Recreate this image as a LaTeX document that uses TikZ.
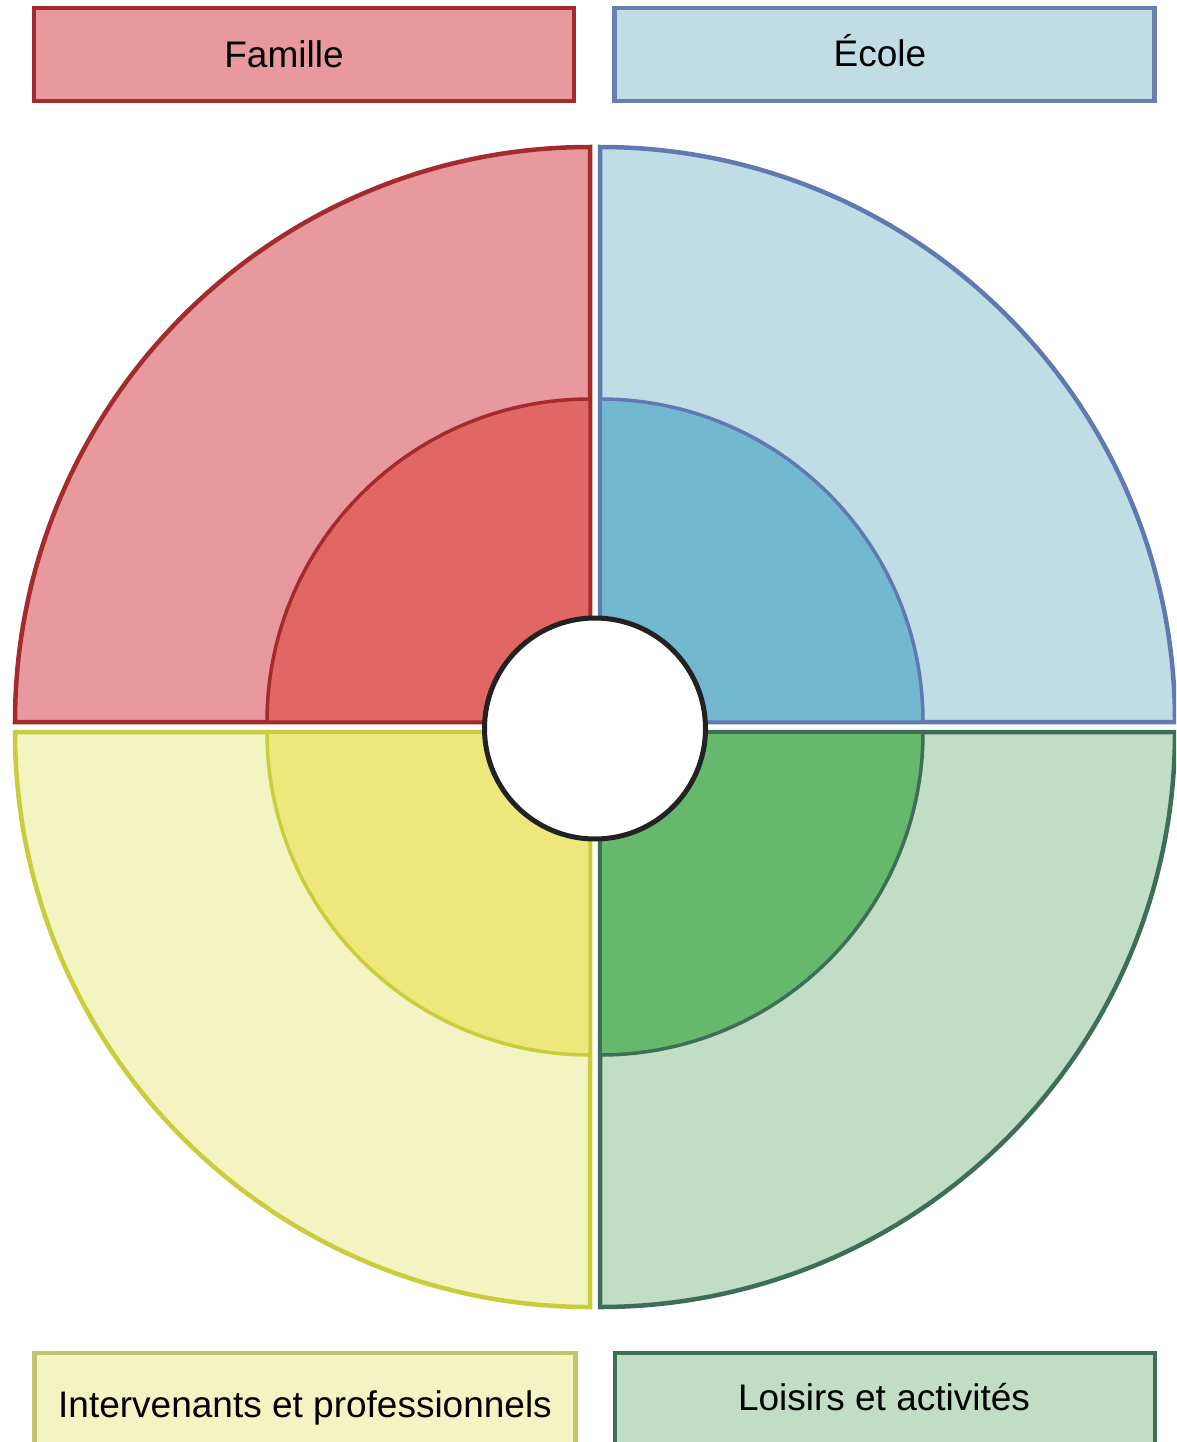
\documentclass[tikz,border=0pt]{standalone}
\usepackage{fontspec}
\setmainfont{Liberation Sans}
\definecolor{redout}{HTML}{E8999D}
\definecolor{redin}{HTML}{E06763}
\definecolor{redline}{HTML}{A32B2E}
\definecolor{blueout}{HTML}{C0DDE6}
\definecolor{bluein}{HTML}{72B9D0}
\definecolor{blueline}{HTML}{6079B0}
\definecolor{yellowout}{HTML}{F4F3C2}
\definecolor{yellowin}{HTML}{EEE87C}
\definecolor{yellowline}{HTML}{C9CD3B}
\definecolor{greenout}{HTML}{C1DDC3}
\definecolor{greenin}{HTML}{66B86D}
\definecolor{greenline}{HTML}{3E6E58}
\definecolor{ylabline}{HTML}{C4C56A}
\definecolor{blabline}{HTML}{6A7FAE}
\definecolor{hubline}{HTML}{222222}
\begin{document}
\begin{tikzpicture}[x=1pt,y=1pt,
  qout/.style={line width=4.5pt, line join=miter},
  qin/.style={line width=3.5pt, line join=miter},
  labelbox/.style={rectangle, line width=4.5pt, inner sep=0pt, minimum width=540pt},
  lbl/.style={font=\fontsize{37}{44}\selectfont, text=black, inner sep=0pt}]
\useasboundingbox (0,0) rectangle (1176,-1442);
\clip (0,0) rectangle (1176,-1442);
\fill[white] (0,0) rectangle (1176,-1442);
% outer quadrants
\draw[qout, fill=redout, draw=redline] (590,-722) -- (15,-722) arc[start angle=180, end angle=90, radius=575] -- cycle;
\draw[qout, fill=blueout, draw=blueline] (600,-722) -- (600,-147) arc[start angle=90, end angle=0, radius=575] -- cycle;
\draw[qout, fill=yellowout, draw=yellowline] (590,-732) -- (15,-732) arc[start angle=180, end angle=270, radius=575] -- cycle;
\draw[qout, fill=greenout, draw=greenline] (600,-732) -- (600,-1307) arc[start angle=270, end angle=360, radius=575] -- cycle;
% inner quadrants
\draw[qin, fill=redin, draw=redline] (590,-722) -- (267,-722) arc[start angle=180, end angle=90, radius=323] -- cycle;
\draw[qin, fill=bluein, draw=blueline] (600,-722) -- (600,-399) arc[start angle=90, end angle=0, radius=323] -- cycle;
\draw[qin, fill=yellowin, draw=yellowline] (590,-732) -- (267,-732) arc[start angle=180, end angle=270, radius=323] -- cycle;
\draw[qin, fill=greenin, draw=greenline] (600,-732) -- (600,-1055) arc[start angle=270, end angle=360, radius=323] -- cycle;
% hub
\node (hub) [circle, draw=hubline, line width=5pt, fill=white, minimum size=221pt, inner sep=0pt] at (595,-728.5) {};
% label boxes
\node (famillebox) [labelbox, fill=redout, draw=redline, minimum height=93pt] at (304,-54.5) {};
\node (ecolebox) [labelbox, fill=blueout, draw=blabline, minimum height=93pt] at (884.5,-54.5) {};
\node (interbox) [labelbox, fill=yellowout, draw=ylabline, minimum height=97pt, minimum width=541pt] at (305,-1401.5) {};
\node (loisirsbox) [labelbox, fill=greenout, draw=greenline, minimum height=97pt] at (885,-1401.5) {};
% texts
\node (famille) [lbl, anchor=base] at (284,-68) {Famille};
\node (ecole) [lbl, anchor=base] at (880,-67) {École};
\node (inter) [lbl, anchor=base] at (305,-1417) {Intervenants et professionnels};
\node (loisirs) [lbl, anchor=base] at (884,-1410) {Loisirs et activités};
\end{tikzpicture}
\end{document}
